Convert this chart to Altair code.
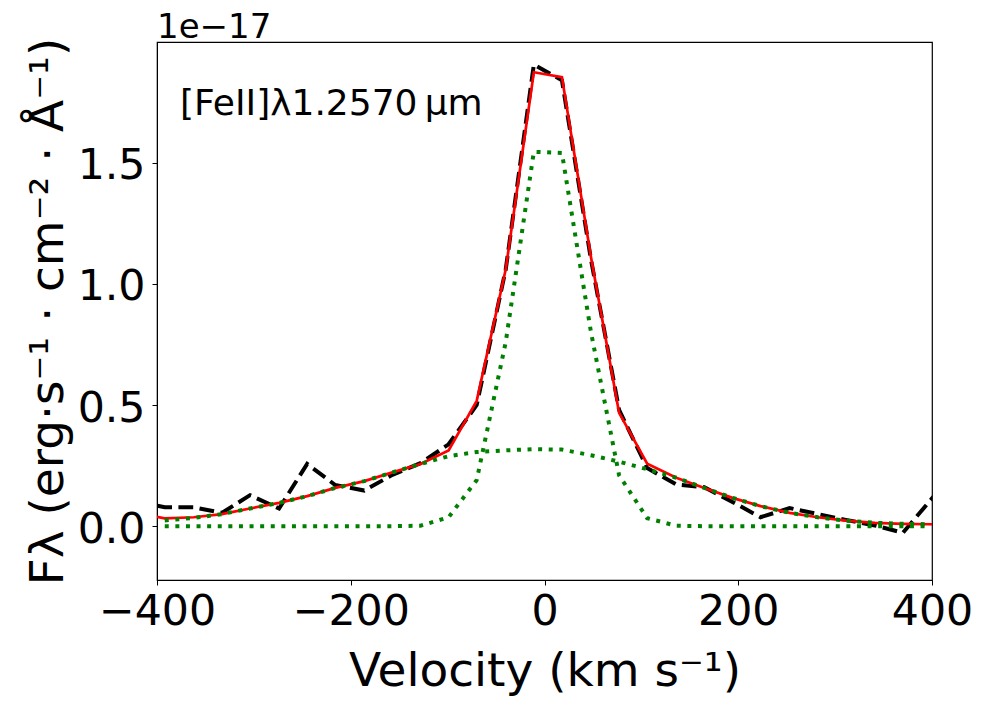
import altair as alt
import pandas as pd

# ---- data (flux in units of 1e-17) ----
velocity = [-421, -392, -362, -333, -304, -274, -245, -216, -186, -157, -128, -99, -70, -40, -11,
            18, 48, 77, 106, 136, 165, 194, 223, 253, 282, 311, 341, 370, 399, 428]
observed = [0.103, 0.078, 0.078, 0.055, 0.128, 0.073, 0.257, 0.170, 0.147, 0.212, 0.260, 0.338, 0.500,
            1.060, 1.905, 1.840, 1.100, 0.480, 0.240, 0.172, 0.161, 0.100, 0.037, 0.075, 0.050,
            0.026, 0.003, -0.027, 0.110, 0.250]
model_total = [0.054, 0.032, 0.037, 0.050, 0.073, 0.096, 0.124, 0.158, 0.186, 0.222, 0.257, 0.313, 0.517,
               1.060, 1.873, 1.853, 1.110, 0.468, 0.258, 0.200, 0.158, 0.117, 0.083, 0.055, 0.037,
               0.023, 0.014, 0.010, 0.008, 0.006]
velocity_comp = [-392, -362, -333, -304, -274, -245, -216, -186, -157, -128, -99, -70, -40, -11,
                 18, 48, 77, 106, 136, 165, 194, 223, 253, 282, 311, 341, 370, 399]
narrow = [0, 0, 0, 0, 0, 0, 0, 0, 0, 0.002, 0.037, 0.190, 0.760, 1.545,
          1.540, 0.800, 0.210, 0.033, 0.002, 0, 0, 0, 0, 0, 0, 0, 0, 0]
broad = [0.024, 0.034, 0.050, 0.073, 0.096, 0.124, 0.158, 0.186, 0.222, 0.257, 0.289, 0.306, 0.313, 0.318,
         0.316, 0.293, 0.266, 0.235, 0.200, 0.158, 0.117, 0.083, 0.055, 0.037, 0.023, 0.014, 0.010, 0.008]

x_ticks = [-400, -200, 0, 200, 400]
y_ticks = [0.0, 0.5, 1.0, 1.5]
line_label = "[FeII]λ1.2570\u2009μm"
offset_label = "1e−17"
x_title = "Velocity (km s⁻¹)"
y_title = "Fλ (erg·s⁻¹ · cm⁻² · Å⁻¹)"

FONT = "DejaVu Sans"
W, H = 775, 538

df_obs = pd.DataFrame({"v": velocity, "f": observed})
df_tot = pd.DataFrame({"v": velocity, "f": model_total})
df_nar = pd.DataFrame({"v": velocity_comp, "f": narrow})
df_brd = pd.DataFrame({"v": velocity_comp, "f": broad})

xscale = alt.Scale(domain=[-400, 400], nice=False, zero=False)
yscale = alt.Scale(domain=[-0.222, 1.998], nice=False, zero=False)

xaxis = alt.Axis(values=x_ticks, format="d", title=x_title, grid=False,
                 labelFontSize=42.67, labelFont=FONT, labelColor="black", labelPadding=5,
                 labelFlush=False, labelOverlap=False,
                 tickSize=5, tickColor="black", domainColor="black",
                 titleFontSize=47, titleFont=FONT, titleFontWeight="normal", titleColor="black",
                 titleBaseline="alphabetic", titleY=105, titleX=W / 2, titleAlign="center")
yaxis = alt.Axis(values=y_ticks, format=".1f", title=y_title, grid=False,
                 labelFontSize=42.67, labelFont=FONT, labelColor="black", labelPadding=7,
                 labelBaseline="middle", labelOffset=3, labelFlush=False, labelOverlap=False,
                 tickSize=5, tickColor="black", domainColor="black",
                 titleFontSize=47, titleFont=FONT, titleFontWeight="normal", titleColor="black",
                 titleAngle=270, titleBaseline="alphabetic", titleAlign="center",
                 titleX=-95, titleY=H / 2)

obs = alt.Chart(df_obs).mark_line(color="black", strokeWidth=4, strokeDash=[14.8, 6.4],
                                  strokeCap="butt", clip=True).encode(
    x=alt.X("v:Q", scale=xscale, axis=xaxis),
    y=alt.Y("f:Q", scale=yscale, axis=yaxis),
)
tot = alt.Chart(df_tot).mark_line(color="#ff0000", strokeWidth=2.7, clip=True).encode(
    x=alt.X("v:Q", scale=xscale), y=alt.Y("f:Q", scale=yscale))
nar = alt.Chart(df_nar).mark_line(color="#008000", strokeWidth=4, strokeDash=[4, 6.6],
                                  strokeCap="butt", clip=True).encode(
    x=alt.X("v:Q", scale=xscale), y=alt.Y("f:Q", scale=yscale))
brd = alt.Chart(df_brd).mark_line(color="#008000", strokeWidth=4, strokeDash=[4, 6.6],
                                  strokeCap="butt", clip=True).encode(
    x=alt.X("v:Q", scale=xscale), y=alt.Y("f:Q", scale=yscale))

lbl = alt.Chart(pd.DataFrame({"t": [line_label]})).mark_text(
    font=FONT, fontSize=36, align="left", baseline="alphabetic", color="black").encode(
    text="t:N", x=alt.value(23), y=alt.value(73))
off = alt.Chart(pd.DataFrame({"t": [offset_label]})).mark_text(
    font=FONT, fontSize=34, align="left", baseline="alphabetic", color="black").encode(
    text="t:N", x=alt.value(0), y=alt.value(-4))

chart = alt.layer(obs, tot, nar, brd, lbl, off).properties(
    width=W, height=H,
    autosize=alt.AutoSizeParams(type="none"),
    padding={"left": 149, "top": 34, "right": 45, "bottom": 120},
    background="white",
).configure_view(stroke="black", strokeWidth=1.2)

chart.save("out.html", embed_options={"renderer": "svg", "actions": False})
